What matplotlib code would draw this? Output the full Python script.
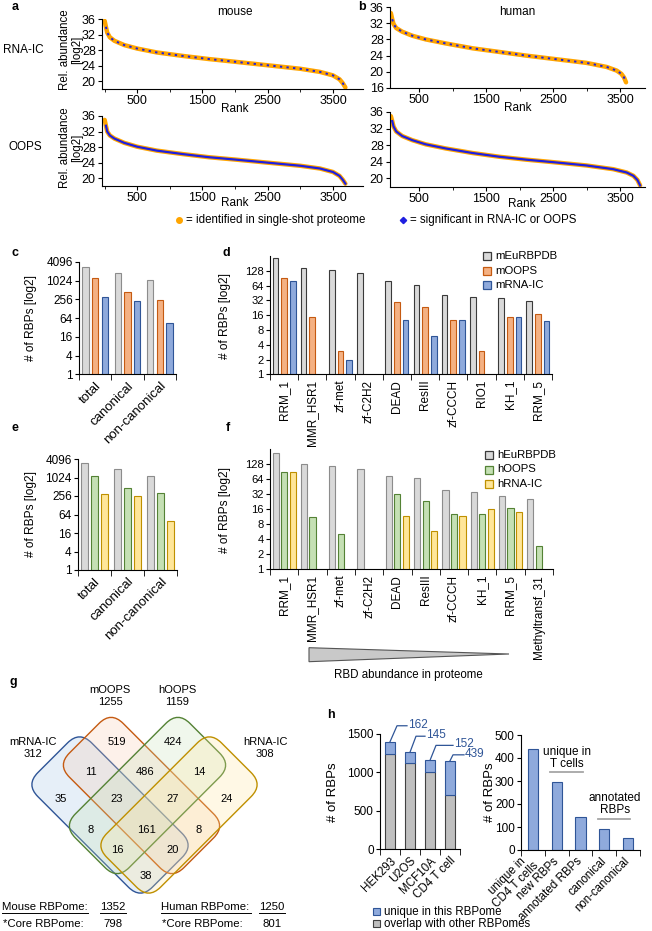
import numpy as np
import matplotlib
matplotlib.use("Agg")
import matplotlib.pyplot as plt
from matplotlib.patches import FancyBboxPatch, Polygon, Rectangle
from matplotlib.transforms import Affine2D
from matplotlib.ticker import NullLocator, FixedLocator

plt.rcParams['font.family'] = ['Liberation Sans', 'DejaVu Sans']
plt.rcParams['axes.linewidth'] = 0.8

# ---------------- data ----------------
# a / b: rank vs relative abundance
m_ic_rank = [1, 20, 40, 80, 150, 300, 500, 800, 1200, 1600, 2000, 2500, 3000, 3300, 3500, 3600, 3650, 3690]
m_ic_abund = [35.5, 34.0, 32.5, 31.3, 30.4, 29.3, 28.4, 27.4, 26.5, 25.7, 25.0, 24.1, 23.2, 22.4, 21.5, 20.5, 19.5, 18.4]
m_oops_rank = [1, 20, 40, 80, 150, 300, 500, 800, 1200, 1600, 2000, 2500, 3000, 3300, 3500, 3600, 3650, 3690]
m_oops_abund = [35.0, 33.5, 32.0, 31.0, 30.2, 29.1, 28.1, 27.1, 26.2, 25.4, 24.8, 24.0, 23.2, 22.5, 21.6, 20.6, 19.6, 18.6]
h_ic_rank = [80, 100, 120, 160, 250, 400, 600, 900, 1300, 1700, 2100, 2500, 3000, 3300, 3450, 3520, 3560, 3590]
h_ic_abund = [34.5, 33.0, 31.8, 30.8, 29.9, 28.9, 28.0, 27.0, 25.8, 24.9, 24.0, 23.2, 22.2, 21.2, 20.3, 19.5, 18.6, 17.4]
h_oops_rank = [80, 100, 120, 160, 250, 400, 600, 900, 1300, 1700, 2100, 2500, 3000, 3400, 3600, 3700, 3760, 3800]
h_oops_abund = [35.0, 33.8, 32.5, 31.3, 30.2, 29.2, 28.2, 27.2, 26.1, 25.2, 24.5, 23.9, 23.1, 22.2, 21.4, 20.6, 19.6, 18.3]

# c / e
groups = ['total', 'canonical', 'non-canonical']
m_db_grp = [2800, 1800, 1050]
m_oops_grp = [1255, 450, 250]
m_ic_grp = [312, 220, 46]
h_db_grp = [3100, 1940, 1150]
h_oops_grp = [1159, 476, 330]
h_ic_grp = [308, 250, 40]

# d
m_domains = ['RRM_1', 'MMR_HSR1', 'zf-met', 'zf-C2H2', 'DEAD', 'ResIII', 'zf-CCCH', 'RIO1', 'KH_1', 'RRM_5']
m_db_dom = [230, 143, 132, 113, 79, 65, 41, 37, 36, 31]
m_oops_dom = [92, 15, 3, np.nan, 29, 23, 13, 3, 15, 17]
m_ic_dom = [81, np.nan, 2, np.nan, 13, 6, 13, np.nan, 15, 12]

# f
h_domains = ['RRM_1', 'MMR_HSR1', 'zf-met', 'zf-C2H2', 'DEAD', 'ResIII', 'zf-CCCH', 'KH_1', 'RRM_5', 'Methyltransf_31']
h_db_dom = [213, 130, 120, 101, 76, 67, 39, 35, 29, 26]
h_oops_dom = [90, 11, 5, np.nan, 32, 23, 13, 13, 17, 3]
h_ic_dom = [88, np.nan, np.nan, np.nan, 12, 6, 12, 16, 14, np.nan]

# g
venn_sets = ['mRNA-IC', 'mOOPS', 'hOOPS', 'hRNA-IC']
venn_sizes = [312, 1255, 1159, 308]
venn_counts = [519, 424, 11, 486, 14, 35, 23, 27, 24, 8, 161, 8, 16, 20, 38]
mouse_rbpome, mouse_core = 1352, 798
human_rbpome, human_core = 1250, 801

# h
cells = ['HEK293', 'U2OS', 'MCF10A', 'CD4 T cell']
overlap = [1237, 1118, 1005, 712]
unique = [162, 145, 152, 439]
tcell_cats = ['unique in\nCD4 T cells', 'new RBPs', 'annotated RBPs', 'canonical', 'non-canonical']
tcell_counts = [439, 294, 145, 92, 53]

# ---------------- layout ----------------
W, H = 652, 931
fig = plt.figure(figsize=(W / 100, H / 100), dpi=100)


def add_ax(x0, y0, x1, y1):
    return fig.add_axes([x0 / W, 1 - y1 / H, (x1 - x0) / W, (y1 - y0) / H])


ov = fig.add_axes([0, 0, 1, 1])
ov.set_xlim(0, W)
ov.set_ylim(H, 0)
ov.axis('off')
ov.set_zorder(5)

ORANGE = '#ffa500'
BLUE = '#1f1fe0'


def rank_panel(ax, rank, ab, xlim, ylim, yticks, dashed):
    ax.plot(rank, ab, color=ORANGE, lw=3.2, solid_capstyle='round')
    if dashed:
        ax.plot(rank[1:], ab[1:], color=BLUE, lw=1.4, dashes=(1.2, 2.2))
    else:
        ax.plot(rank[1:], ab[1:], color=BLUE, lw=1.6)
    ax.set_xlim(*xlim)
    ax.set_ylim(*ylim)
    ax.set_yticks(yticks)
    ax.set_xticks([500, 1500, 2500, 3500])
    ax.xaxis.set_minor_locator(FixedLocator([0, 1000, 2000, 3000]))
    for s in ['top', 'right']:
        ax.spines[s].set_visible(False)
    ax.tick_params(labelsize=9, length=3, pad=1.5)
    ax.tick_params(which='minor', length=2)


axA1 = add_ax(102, 19, 363, 89)
axA2 = add_ax(102, 116, 363, 186)
axB1 = add_ax(390, 7, 645, 88)
axB2 = add_ax(390, 112, 645, 186.6)
rank_panel(axA1, m_ic_rank, m_ic_abund, (-40, 3960), (18, 36), [20, 24, 28, 32, 36], True)
rank_panel(axA2, m_oops_rank, m_oops_abund, (-40, 3960), (18, 36), [20, 24, 28, 32, 36], False)
rank_panel(axB1, h_ic_rank, h_ic_abund, (67, 3873), (16, 36), [16, 20, 24, 28, 32, 36], True)
rank_panel(axB2, h_oops_rank, h_oops_abund, (67, 3873), (18, 36), [20, 24, 28, 32, 36], False)

ov.text(235, 12, 'mouse', ha='center', va='center', fontsize=8.5)
ov.text(517, 12, 'human', ha='center', va='center', fontsize=8.5)
for x, y in [(235, 109), (235, 203), (518, 108), (522, 204)]:
    ov.text(x, y, 'Rank', ha='center', va='center', fontsize=8.5)
for y in [50, 148]:
    ov.text(71, y, 'Rel. abundance\n[log2]', ha='center', va='center', rotation=90,
            fontsize=8.3, linespacing=0.95)
ov.text(23, 50, 'RNA-IC', ha='center', va='center', fontsize=8.5)
ov.text(25, 147, 'OOPS', ha='center', va='center', fontsize=8.5)
ov.plot(179, 220, 'o', color=ORANGE, ms=4, mec=ORANGE)
ov.text(186, 220, '= identified in single-shot proteome', va='center', fontsize=8.3)
ov.plot(403, 220, 'D', color=BLUE, ms=3.2)
ov.text(410, 220, '= significant in RNA-IC or OOPS', va='center', fontsize=8.3)


# ---------------- bar panels ----------------
def grouped_bars(ax, cats, series, fills, edges, width, step, ymax, yticks, rot, xfs, yfs):
    x = np.arange(len(cats)) + 0.5
    for k, (vals, fc, ec) in enumerate(zip(series, fills, edges)):
        ax.bar(x + (k - 1) * step, vals, width=width, color=fc, edgecolor=ec, lw=0.8)
    ax.set_yscale('log', base=2)
    ax.set_ylim(1, ymax)
    ax.set_xlim(0, len(cats))
    ax.set_yticks(yticks)
    ax.set_yticklabels([str(t) for t in yticks], fontsize=yfs)
    ax.yaxis.set_minor_locator(NullLocator())
    ax.set_xticks(x)
    if rot == 45:
        ax.set_xticklabels(cats, rotation=45, ha='right', rotation_mode='anchor', fontsize=xfs)
    else:
        ax.set_xticklabels(cats, rotation=90, fontsize=xfs)
    ax.xaxis.set_minor_locator(FixedLocator(np.arange(len(cats) + 1)))
    ax.tick_params(axis='x', which='major', length=0, pad=4)
    ax.tick_params(axis='x', which='minor', length=4, direction='out')
    ax.tick_params(axis='y', length=3, pad=1.5)
    for s in ['top', 'right']:
        ax.spines[s].set_visible(False)


G_FC, G_EC = '#d9d9d9', '#8c8c8c'
O_FC, O_EC = '#f4b183', '#c55a11'
B_FC, B_EC = '#8faadc', '#2f5597'
GR_FC, GR_EC = '#c5e0b4', '#548235'
Y_FC, Y_EC = '#ffe699', '#bf9000'

axC = add_ax(79, 262, 176, 374.3)
grouped_bars(axC, groups, [m_db_grp, m_oops_grp, m_ic_grp], [G_FC, O_FC, B_FC],
             [G_EC, O_EC, B_EC], 0.2, 0.3, 4096, [1, 4, 16, 64, 256, 1024, 4096], 45, 9.5, 8.5)
axE = add_ax(78, 459, 177, 570)
grouped_bars(axE, groups, [h_db_grp, h_oops_grp, h_ic_grp], [G_FC, GR_FC, Y_FC],
             [G_EC, GR_EC, Y_EC], 0.2, 0.3, 4096, [1, 4, 16, 64, 256, 1024, 4096], 45, 9.5, 8.5)
axD = add_ax(270, 256, 552, 374.3)
grouped_bars(axD, m_domains, [m_db_dom, m_oops_dom, m_ic_dom], [G_FC, O_FC, B_FC],
             ['#3a3a3a', O_EC, B_EC], 0.2, 0.31, 256, [1, 2, 4, 8, 16, 32, 64, 128], 90, 8.5, 8)
axF = add_ax(270, 449.3, 553, 569.3)
grouped_bars(axF, h_domains, [h_db_dom, h_oops_dom, h_ic_dom], [G_FC, GR_FC, Y_FC],
             [G_EC, GR_EC, Y_EC], 0.22, 0.3, 256, [1, 2, 4, 8, 16, 32, 64, 128], 90, 8.5, 8)

for x, y in [(31, 318), (31, 514), (225, 316), (225, 510)]:
    ov.text(x, y, '# of RBPs [log2]', rotation=90, ha='center', va='center', fontsize=8.6)


def legend_rows(x, y0, labels, fills, edges, dy=14.5):
    for i, (lab, fc, ec) in enumerate(zip(labels, fills, edges)):
        y = y0 + i * dy
        ov.add_patch(Rectangle((x, y - 4), 8, 8, fc=fc, ec=ec, lw=0.9))
        ov.text(x + 12, y, lab, va='center', fontsize=8.2)


legend_rows(483, 256, ['mEuRBPDB', 'mOOPS', 'mRNA-IC'], [G_FC, O_FC, B_FC], ['#3a3a3a', O_EC, B_EC])
legend_rows(485, 455, ['hEuRBPDB', 'hOOPS', 'hRNA-IC'], [G_FC, GR_FC, Y_FC], ['#3a3a3a', GR_EC, Y_EC])

ov.add_patch(Polygon([(309, 647.7), (509, 654), (309, 661.7)], closed=True,
                     fc='#c9c9c9', ec='#555555', lw=0.8))
ov.text(408, 675, 'RBD abundance in proteome', ha='center', va='center', fontsize=8.3)

# ---------------- g: Venn ----------------
venn_geom = [(110, 815, 45), (141.5, 795.5, 45), (147.5, 795.5, -45), (179, 815, -45)]
venn_ec = ['#2f5597', '#c55a11', '#548235', '#bf9000']
venn_fc = ['#9dc3e6', '#f8cbad', '#c5e0b4', '#ffe699']
L, S, R = 162, 76, 17
for (cx, cy, ang), ec, fc in zip(venn_geom, venn_ec, venn_fc):
    tr = Affine2D().rotate_deg_around(cx, cy, ang) + ov.transData
    ov.add_patch(FancyBboxPatch((cx - L / 2, cy - S / 2), L, S,
                                boxstyle=f'round,pad=0,rounding_size={R}',
                                fc=fc, ec='none', alpha=0.25, transform=tr))
    ov.add_patch(FancyBboxPatch((cx - L / 2, cy - S / 2), L, S,
                                boxstyle=f'round,pad=0,rounding_size={R}',
                                fc='none', ec=ec, lw=1.0, transform=tr))
venn_pos = [(117, 742), (173, 742), (91, 772), (145, 772), (199, 772), (61, 799), (117, 799),
            (173, 799), (227, 799), (91, 830), (146, 830), (199, 830), (117, 850), (173, 850),
            (146, 876)]
for (x, y), n in zip(venn_pos, venn_counts):
    ov.text(x, y, str(n), ha='center', va='center', fontsize=8)
for (x, y), name, n in zip([(33, 748), (110, 696), (177, 696), (265, 748)], venn_sets, venn_sizes):
    ov.text(x, y, f'{name}\n{n}', ha='center', va='center', fontsize=8, linespacing=1.15)

for x0, lab_end, num_x, tot, core in [(2, 88, 113, mouse_rbpome, mouse_core),
                                      (161, 251, 272, human_rbpome, human_core)]:
    name = 'Mouse RBPome:' if x0 < 100 else 'Human RBPome:'
    ov.text(x0, 907, name, va='center', fontsize=8.2)
    ov.plot([x0, lab_end], [913, 913], color='k', lw=0.7)
    ov.text(num_x, 907, str(tot), ha='center', va='center', fontsize=8.2)
    ov.plot([num_x - 13, num_x + 13], [913, 913], color='k', lw=0.7)
    ov.text(x0 + 1, 924, '*Core RBPome:', va='center', fontsize=8.2)
    ov.text(num_x, 924, str(core), ha='center', va='center', fontsize=8.2)

# ---------------- h ----------------
H_BLUE, H_BLUE_EC = '#8faadc', '#2f5597'
H_GRAY, H_GRAY_EC = '#bfbfbf', '#404040'

axH1 = add_ax(380, 734, 460, 849.3)
xc = np.arange(len(cells))
axH1.bar(xc, overlap, width=0.47, color=H_GRAY, edgecolor=H_GRAY_EC, lw=0.8)
axH1.bar(xc, unique, bottom=overlap, width=0.47, color=H_BLUE, edgecolor=H_BLUE_EC, lw=0.8)
axH1.set_ylim(0, 1500)
axH1.set_xlim(-0.5, len(cells) - 0.5)
axH1.set_yticks([0, 500, 1000, 1500])
axH1.set_xticks(xc)
axH1.set_xticklabels(cells, rotation=45, ha='right', rotation_mode='anchor', fontsize=8.3)

axH2 = add_ax(521, 735, 640, 850)
xt = np.arange(len(tcell_cats))
axH2.bar(xt, tcell_counts, width=0.43, color=H_BLUE, edgecolor=H_BLUE_EC, lw=0.8)
axH2.set_ylim(0, 500)
axH2.set_xlim(-0.5, len(tcell_cats) - 0.5)
axH2.set_yticks([0, 100, 200, 300, 400, 500])
axH2.set_xticks(xt)
axH2.set_xticklabels(tcell_cats, rotation=45, ha='right', va='center', rotation_mode='anchor',
                     multialignment='center', linespacing=1.0, fontsize=8.3)

for ax, n, pad in [(axH1, len(cells), 4), (axH2, len(tcell_cats), 7)]:
    ax.xaxis.set_minor_locator(FixedLocator(np.arange(n + 1) - 0.5))
    ax.tick_params(axis='x', which='major', length=0, pad=pad)
    ax.tick_params(axis='x', which='minor', length=4)
    ax.tick_params(axis='y', length=3, pad=1.5, labelsize=8.5)
    for s in ['top', 'right']:
        ax.spines[s].set_visible(False)

for x in [333, 490]:
    ov.text(x, 792, '# of RBPs', rotation=90, ha='center', va='center', fontsize=9.5)

leaders = [(7, -16, 10), (6, -16, 9), (6, -15, 17), (3, -6, 11)]
for i, (u, (dx1, dy1, dx2)) in enumerate(zip(unique, leaders)):
    px, py = axH1.transData.transform((xc[i], overlap[i] + u))
    x0, y0 = px, H - py
    ov.plot([x0, x0 + dx1, x0 + dx1 + dx2], [y0, y0 + dy1, y0 + dy1], color='#2f5597', lw=0.9)
    ov.text(x0 + dx1 + dx2 + 1, y0 + dy1 - 1, str(u), va='center', fontsize=8.5, color='#2f5597')

ov.text(567, 758, 'unique in\nT cells', ha='center', va='center', fontsize=8.5, linespacing=1.0)
ov.plot([550, 583], [772, 772], color='#a6a6a6', lw=1.3)
ov.text(615, 804, 'annotated\nRBPs', ha='center', va='center', fontsize=8.5, linespacing=1.0)
ov.plot([598, 630], [819, 819], color='#a6a6a6', lw=1.3)

ov.add_patch(Rectangle((373, 908), 7, 7, fc=H_BLUE, ec=H_BLUE_EC, lw=0.8))
ov.text(384, 912, 'unique in this RBPome', va='center', fontsize=8.3)
ov.add_patch(Rectangle((373, 920), 7, 7, fc=H_GRAY, ec=H_GRAY_EC, lw=0.8))
ov.text(384, 924, 'overlap with other RBPomes', va='center', fontsize=8.3)

# panel letters
for lab, x, y in [('a', 15, 7), ('b', 362, 7), ('c', 15, 253), ('d', 226, 253),
                  ('e', 15, 428), ('f', 228, 428), ('g', 13, 682), ('h', 331, 715)]:
    ov.text(x, y, lab, ha='center', va='center', fontsize=9, fontweight='bold')

fig.savefig('out.png', dpi=100)
